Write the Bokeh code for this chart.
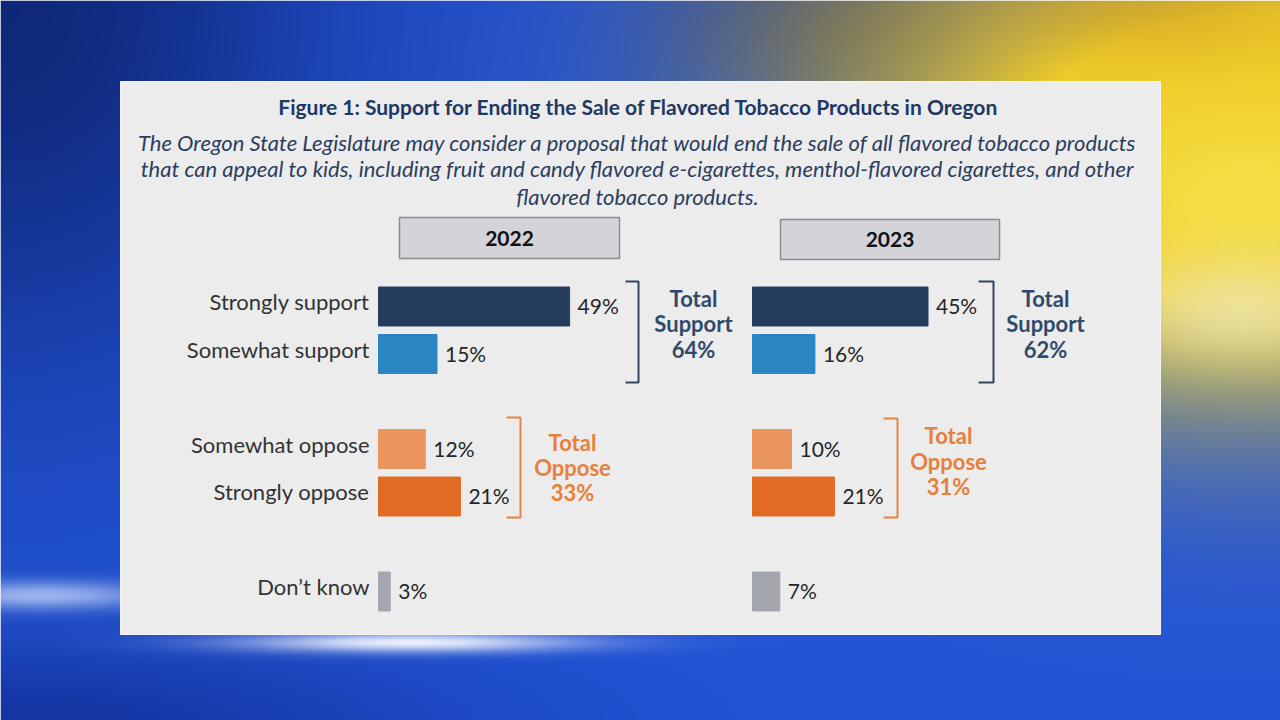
import numpy as np
from bokeh.plotting import figure
from bokeh.models import Range1d
from bokeh.embed import file_html
from bokeh.resources import INLINE
from bokeh.core.properties import value

# ---- data -------------------------------------------------------------
categories = ["Strongly support", "Somewhat support", "Somewhat oppose",
              "Strongly oppose", "Don\u2019t know"]
slots = [0, 1, 3, 4, 6]          # row slot for each category (gaps between groups)
years = ["2022", "2023"]
pct_2022 = [49, 15, 12, 21, 3]
pct_2023 = [45, 16, 10, 21, 7]
total_support = [64, 62]
total_oppose = [33, 31]
bar_colors = ["#243d5f", "#2a86c3", "#ea955d", "#e26b23", "#a3a6ae"]

title = "Figure 1: Support for Ending the Sale of Flavored Tobacco Products in Oregon"
subtitle = [
    "The Oregon State Legislature may consider a proposal that would end the sale of all flavored tobacco products",
    "that can appeal to kids, including fruit and candy flavored e-cigarettes, menthol-flavored cigarettes, and other",
    "flavored tobacco products.",
]

# ---- layout constants (canvas pixels, y measured from the top) ----------
W, H = 1280, 720
PX_PER_PCT = 3.9
ROW_TOP = 306.0      # centre of the first row
ROW_STEP = 47.5
BAR_X0 = {"2022": 378.0, "2023": 752.0}
FONT = value("Lato")
NAVY = "#1f3864"
SUPPORT_TXT = "#2f4a6b"
OPPOSE_TXT = "#e6803a"


def Y(py):
    return H - py


def backdrop(w=640, h=360):
    xs = (np.arange(w) + 0.5) * (W / w)
    ys = (np.arange(h) + 0.5) * (H / h)
    X, Yp = np.meshgrid(xs, ys)
    img = np.empty((h, w, 3))
    img[:] = (34, 84, 214)

    def mix(im, color, a):
        a = np.clip(a, 0, 1)[..., None]
        return im * (1 - a) + np.array(color, float) * a

    navy = np.exp(-((X / 330) ** 2 + (Yp / 380) ** 2))
    img = mix(img, (12, 32, 105), 0.85 * navy)
    low = np.exp(-((X / 450) ** 2 + ((Yp - 730) / 90) ** 2))
    img = mix(img, (14, 40, 140), 0.7 * low)
    dusk = np.exp(-(((X - 860) / 200) ** 2 + ((Yp - 20) / 110) ** 2))
    img = mix(img, (95, 80, 55), 0.6 * dusk)
    glow = np.exp(-(((X - 1260) / 380) ** 2 + ((Yp - 160) / 230) ** 2))
    img = mix(img, (240, 206, 40), 1.5 * glow)
    corner = np.exp(-(((X - 1150) / 160) ** 2 + ((Yp) / 60) ** 2))
    img = mix(img, (200, 150, 35), 0.5 * corner)
    hot = np.exp(-(((X - 1250) / 150) ** 2 + ((Yp - 200) / 90) ** 2))
    img = mix(img, (250, 234, 90), 0.6 * hot)
    pale = np.exp(-(((X - 1240) / 130) ** 2 + ((Yp - 310) / 55) ** 2))
    img = mix(img, (236, 234, 205), 0.65 * pale)
    streak = np.exp(-(((X - 410) / 170) ** 2 + ((Yp - 642) / 10) ** 2))
    img = mix(img, (245, 248, 255), 0.95 * streak)
    streak2 = np.exp(-(((X - 40) / 120) ** 2 + ((Yp - 595) / 14) ** 2))
    img = mix(img, (210, 225, 255), 0.7 * streak2)

    rgba = np.empty((h, w, 4), dtype=np.uint8)
    rgba[..., :3] = np.clip(img, 0, 255).astype(np.uint8)
    rgba[..., 3] = 255
    return rgba.view(np.uint32).reshape(h, w)[::-1]


p = figure(width=W, height=H, x_range=Range1d(0, W), y_range=Range1d(0, H),
           output_backend="svg", toolbar_location=None,
           x_axis_location=None, y_axis_location=None, min_border=0)
p.grid.visible = False
p.outline_line_color = None
p.background_fill_color = None
p.border_fill_color = None

# percentage scales for each year's bars and a row scale for the categories
for yr in years:
    x0 = BAR_X0[yr]
    p.extra_x_ranges["pct" + yr] = Range1d(-x0 / PX_PER_PCT, (W - x0) / PX_PER_PCT)
p.extra_y_ranges["rows"] = Range1d((H - ROW_TOP) / ROW_STEP, -ROW_TOP / ROW_STEP)

# backdrop and card
p.image_rgba(image=[backdrop()], x=0, y=0, dw=W, dh=H)
p.quad(left=120, right=1160, bottom=Y(634), top=Y(81),
       fill_color="#ececec", line_color="#f4f4f4", line_width=1)

# headings
p.text(x=[638], y=[Y(106)], text=[title], text_align="center", text_baseline="middle",
       text_font=FONT, text_font_style="bold", text_font_size="21px", text_color=NAVY)
p.text(x=[637] * 3, y=[Y(142), Y(168), Y(196)], text=subtitle, text_align="center",
       text_baseline="middle", text_font=FONT, text_font_style="italic",
       text_font_size="22px", text_color="#2c3e5e")

# year header boxes
box_l = [399, 780]
box_r = [619, 999]
box_t = [217, 219]
box_b = [258, 259]
p.quad(left=box_l, right=box_r, top=[Y(v) for v in box_t], bottom=[Y(v) for v in box_b],
       fill_color="#d3d3d9", line_color="#8c8c8c", line_width=1.5)
p.text(x=[(a + b) / 2 for a, b in zip(box_l, box_r)],
       y=[Y((a + b) / 2) for a, b in zip(box_t, box_b)], text=years,
       text_align="center", text_baseline="middle", text_font=FONT,
       text_font_style="bold", text_font_size="21px", text_color="#111111")

# category labels
p.text(x=[369] * len(categories), y=slots, text=categories, y_range_name="rows",
       text_align="right", text_baseline="middle", text_font=FONT,
       text_font_size="22px", text_color="#333333", y_offset=-5)

# bars and value labels
for yr, vals in zip(years, [pct_2022, pct_2023]):
    rng = "pct" + yr
    p.hbar(y=slots, left=0, right=vals, height=0.82, color=bar_colors,
           x_range_name=rng, y_range_name="rows")
    p.text(x=vals, y=slots, text=[f"{v}%" for v in vals], x_range_name=rng,
           y_range_name="rows", text_align="left", text_baseline="middle",
           text_font=FONT, text_font_size="21px", text_color="#262626",
           x_offset=8, y_offset=-1)

# group brackets
sup_br = {"x": [[625, 638, 638, 625], [978, 993, 993, 978]],
          "y": [[Y(281), Y(281), Y(382), Y(382)]] * 2}
opp_br = {"x": [[506, 520, 520, 506], [883, 897, 897, 883]],
          "y": [[Y(417), Y(417), Y(517), Y(517)], [Y(418), Y(418), Y(517), Y(517)]]}
p.multi_line(xs=sup_br["x"], ys=sup_br["y"], line_color="#34435e", line_width=2)
p.multi_line(xs=opp_br["x"], ys=opp_br["y"], line_color="#e6843f", line_width=2)

# group totals
sup_x = [693, 1045]
opp_x = [572, 948]
sup_y = [[298, 323, 349], [298, 323, 349]]
opp_y = [[442, 467, 492], [435, 461, 486]]
for i in range(2):
    p.text(x=[sup_x[i]] * 3, y=[Y(v) for v in sup_y[i]],
           text=["Total", "Support", f"{total_support[i]}%"], text_align="center",
           text_baseline="middle", text_font=FONT, text_font_style="bold",
           text_font_size="22px", text_color=SUPPORT_TXT)
    p.text(x=[opp_x[i]] * 3, y=[Y(v) for v in opp_y[i]],
           text=["Total", "Oppose", f"{total_oppose[i]}%"], text_align="center",
           text_baseline="middle", text_font=FONT, text_font_style="bold",
           text_font_size="22px", text_color=OPPOSE_TXT)

open("out.html", "w").write(file_html(p, INLINE))
